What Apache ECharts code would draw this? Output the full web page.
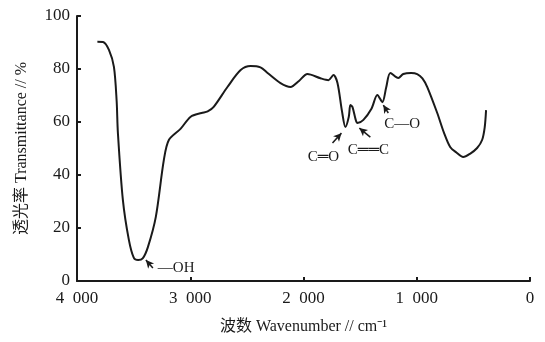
<!DOCTYPE html>
<html>
<head>
<meta charset="utf-8">
<script src="https://cdn.jsdelivr.net/npm/echarts@6/dist/echarts.min.js"></script>
<style>
  html, body { margin: 0; padding: 0; background: #fff; }
  #chart { width: 545px; height: 342px; }
</style>
</head>
<body>
<div id="chart"></div>
<script>
// 波数 / 透光率 读图数据
const wavenumber = [3820, 3770, 3718, 3674, 3650, 3639, 3595, 3542, 3498, 3460, 3420, 3374, 3304, 3233, 3189, 3084, 2996, 2900, 2846, 2793, 2670, 2555, 2467, 2380, 2317, 2203, 2115, 2040, 1965, 1850, 1780, 1736, 1700, 1660, 1630, 1600, 1586, 1568, 1540, 1524, 1471, 1400, 1348, 1304, 1270, 1233, 1163, 1119, 1050, 996, 950, 907, 819, 760, 705, 650, 590, 530, 467, 423, 400, 388]
const transmittance = [90.3, 90.2, 87.2, 80.8, 68, 56, 30.6, 15.5, 8.7, 7.9, 8.5, 12.8, 24.2, 45.7, 53.2, 57.5, 62, 63.4, 64, 65.7, 73.3, 79.6, 81.1, 80.6, 78.5, 74.7, 73.2, 75.5, 78.1, 76.5, 75.8, 77.7, 74.7, 64, 58.1, 62, 66.4, 65.7, 61, 59.6, 60.8, 65, 70.2, 67.5, 73, 78.5, 76.6, 78.1, 78.5, 78.1, 76.5, 73.2, 63.4, 56, 50.6, 48.5, 46.8, 48, 50.2, 53.2, 58, 64.5]

const xTicks = [0, 1000, 2000, 3000, 4000]
const yTicks = [0, 20, 40, 60, 80, 100]

// 峰的标注：文字位置 + 箭头(尾 -> 头)
const peakLabels = ['—OH', 'C═O', 'C══C', 'C—O']
const labelPos = [[3286, 4.9], [1824, 46.8], [1427, 49.4], [1128, 59.2]]
const arrowTail = [[3330, 4.9], [1744, 52.1], [1410, 54.3], [1251, 63.4]]
const arrowHead = [[3392, 7.9], [1665, 55.8], [1507, 57.7], [1295, 66.4]]

const serif = 'Liberation Serif, Noto Sans CJK SC'
const ink = '#1a1a1a'

const chart = echarts.init(document.getElementById('chart'))

const fmtTick = v => v === 0 ? '0' : String(v / 1000) + '\u2002000'

const option = {
  animation: false,
  grid: { left: 77, right: 15, top: 16, bottom: 61 },
  xAxis: {
    type: 'value',
    inverse: true,
    min: xTicks[0],
    max: xTicks[xTicks.length - 1],
    interval: 1000,
    name: '波数 Wavenumber // cm⁻¹',
    nameLocation: 'middle',
    nameGap: 38,
    nameTextStyle: { fontFamily: serif, fontSize: 16, color: ink },
    axisLine: { onZero: false, lineStyle: { color: ink, width: 2 } },
    axisTick: { inside: true, length: 4, lineStyle: { color: ink, width: 2 } },
    axisLabel: { formatter: fmtTick, fontFamily: serif, fontSize: 17, color: ink, margin: 9 },
    splitLine: { show: false }
  },
  yAxis: {
    type: 'value',
    position: 'left',
    min: yTicks[0],
    max: yTicks[yTicks.length - 1],
    interval: 20,
    name: '透光率 Transmittance // %',
    nameLocation: 'middle',
    nameGap: 47,
    nameTextStyle: { fontFamily: serif, fontSize: 16, color: ink },
    axisLine: { show: true, onZero: false, lineStyle: { color: ink, width: 2 } },
    axisTick: { show: true, inside: true, length: 4, lineStyle: { color: ink, width: 2 } },
    axisLabel: { fontFamily: serif, fontSize: 17, color: ink, margin: 7 },
    splitLine: { show: false }
  },
  series: [{
    type: 'line',
    data: wavenumber.map((w, i) => [w, transmittance[i]]),
    showSymbol: false,
    smooth: 0.3,
    lineStyle: { color: ink, width: 2 },
    markLine: {
      silent: true,
      symbol: ['none', 'arrow'],
      symbolSize: [6, 8],
      lineStyle: { color: ink, width: 1.5, type: 'solid' },
      label: { show: false },
      data: arrowTail.map((t, i) => [{ coord: t }, { coord: arrowHead[i] }])
    },
    markPoint: {
      silent: true,
      symbol: 'circle',
      symbolSize: 0,
      data: peakLabels.map((name, i) => ({
        coord: labelPos[i],
        name: name,
        label: {
          show: true,
          formatter: name,
          position: i === 0 ? 'right' : 'inside',
          distance: 0,
          fontFamily: serif,
          fontSize: 15,
          color: ink
        }
      }))
    }
  }]
}

chart.setOption(option)
window.addEventListener('resize', () => chart.resize())
</script>
</body>
</html>
